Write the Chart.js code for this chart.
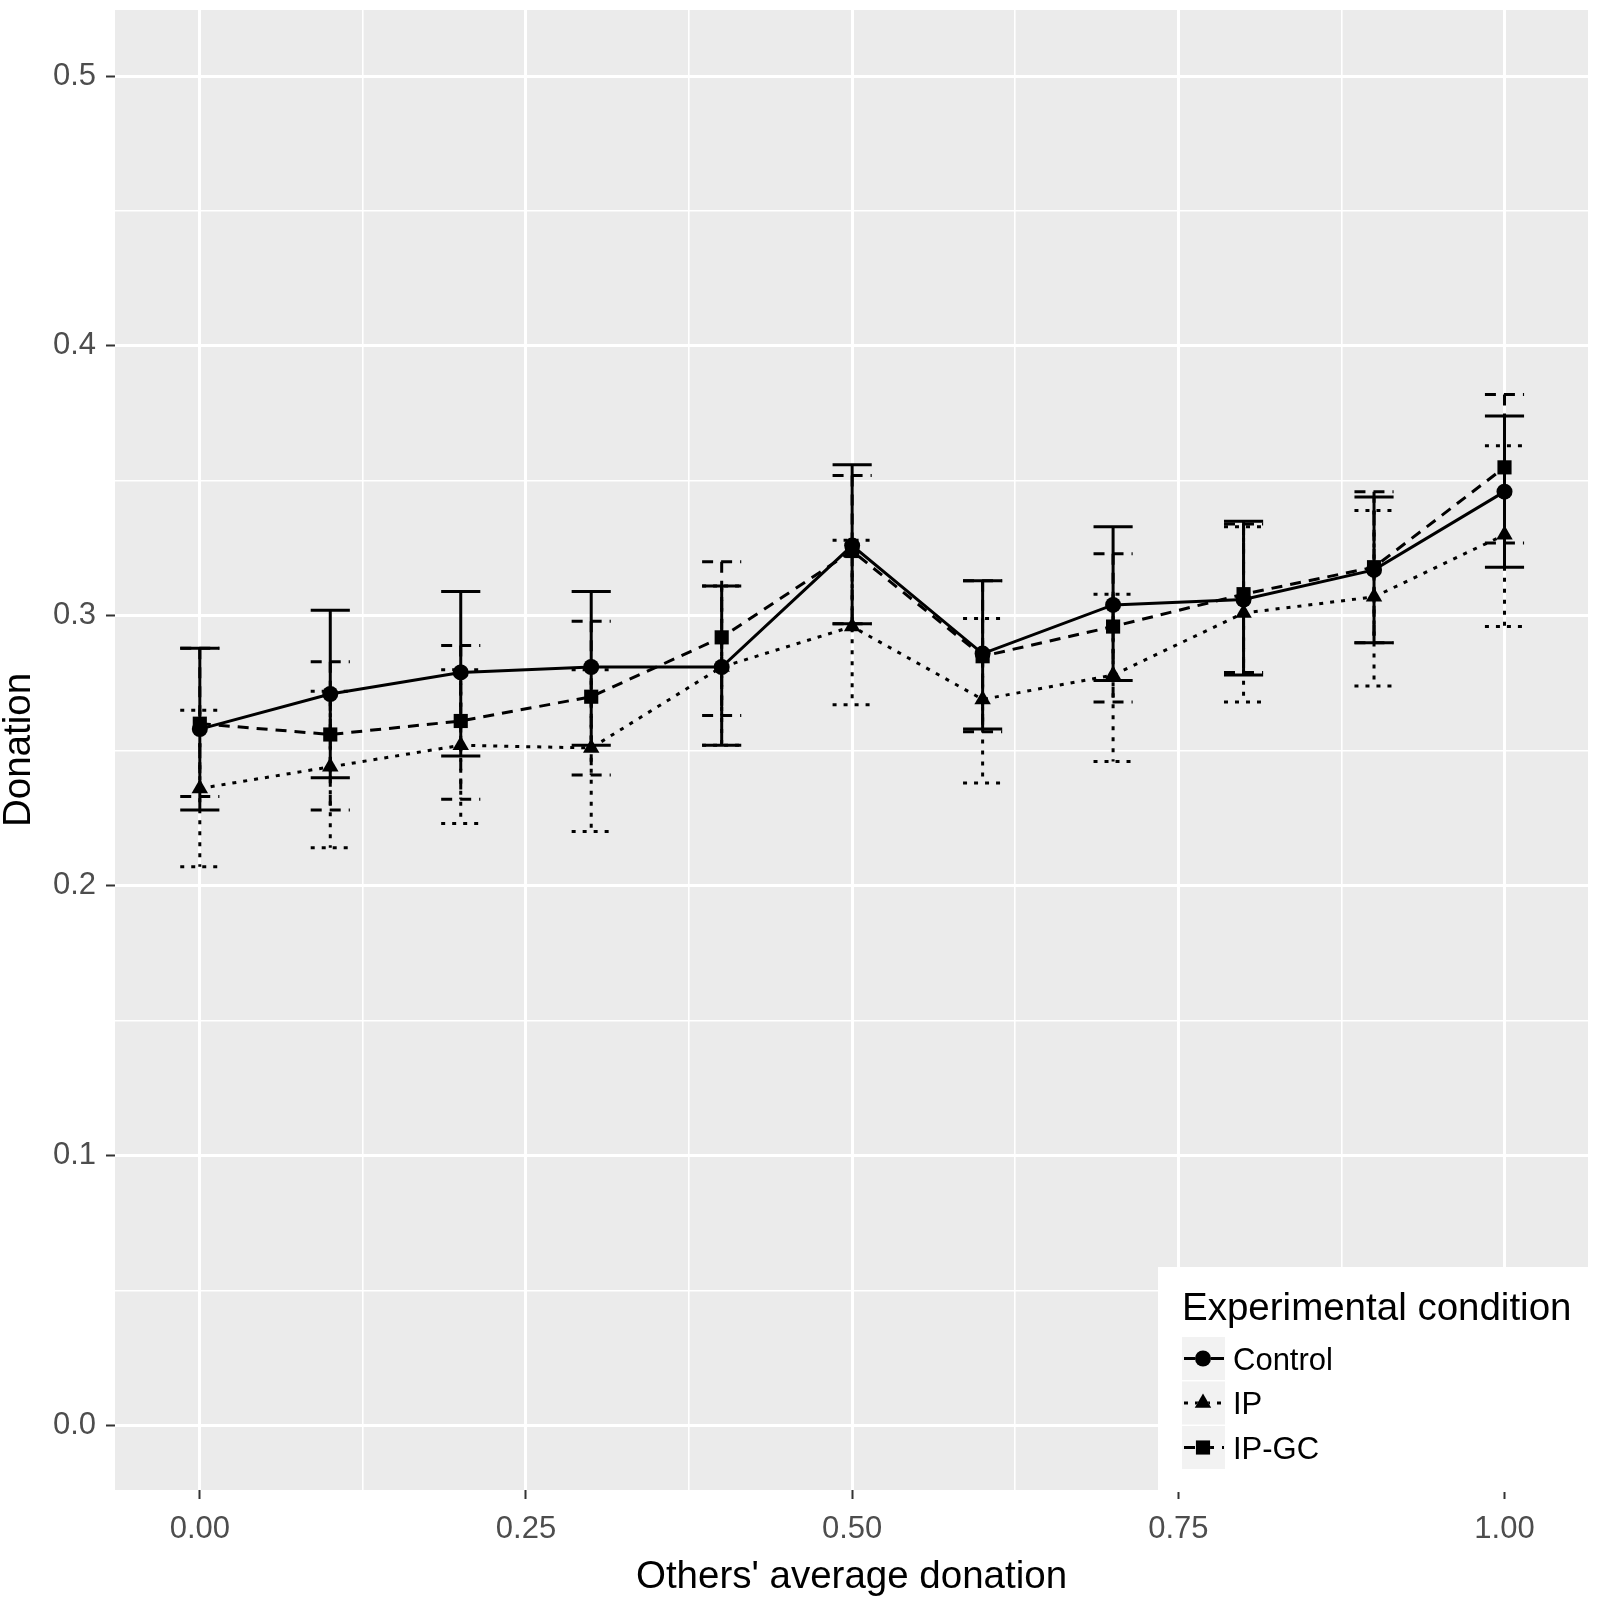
<!DOCTYPE html>
<html>
<head>
<meta charset="utf-8">
<script src="https://cdn.jsdelivr.net/npm/chart.js@4.4.0/dist/chart.umd.min.js"></script>
<style>
    html, body { margin: 0; padding: 0; background: #ffffff; }
    #wrap { width: 1600px; height: 1606px; }
</style>
</head>
<body>
<div id="wrap"><canvas id="donation_chart" width="1600" height="1606"></canvas></div>
<script>
// x: others' average donation
const others = [0, 0.1, 0.2, 0.3, 0.4, 0.5, 0.6, 0.7, 0.8, 0.9, 1.0];

const seriesNames = ['Control', 'IP', 'IP-GC'];

// means and error bar limits
const controlMean = [0.258, 0.271, 0.279, 0.281, 0.281, 0.326, 0.286, 0.304, 0.306, 0.317, 0.346];
const controlLow  = [0.228, 0.240, 0.248, 0.252, 0.252, 0.297, 0.258, 0.276, 0.278, 0.290, 0.318];
const controlHigh = [0.288, 0.302, 0.309, 0.309, 0.311, 0.356, 0.313, 0.333, 0.335, 0.344, 0.374];

const ipMean = [0.236, 0.244, 0.252, 0.251, 0.281, 0.296, 0.269, 0.278, 0.301, 0.307, 0.330];
const ipLow  = [0.207, 0.214, 0.223, 0.220, 0.252, 0.267, 0.238, 0.246, 0.268, 0.274, 0.296];
const ipHigh = [0.265, 0.272, 0.280, 0.280, 0.311, 0.328, 0.299, 0.308, 0.333, 0.339, 0.363];

const ipgcMean = [0.260, 0.256, 0.261, 0.270, 0.292, 0.324, 0.285, 0.296, 0.308, 0.318, 0.355];
const ipgcLow  = [0.233, 0.228, 0.232, 0.241, 0.263, 0.297, 0.257, 0.268, 0.279, 0.290, 0.327];
const ipgcHigh = [0.288, 0.283, 0.289, 0.298, 0.320, 0.352, 0.313, 0.323, 0.334, 0.346, 0.382];

// tick labels / gridlines
const xMajor = [0, 0.25, 0.5, 0.75, 1.0];
const xMinor = [0.125, 0.375, 0.625, 0.875];
const yMajor = [0, 0.1, 0.2, 0.3, 0.4, 0.5];
const yMinor = [0.05, 0.15, 0.25, 0.35, 0.45];

const capHalf = 0.015; // errorbar half width in x units

function points(means) {
    return others.map(function (x, i) {
        return {x: x, y: means[i]};
    });
}

function isMajor(list, v) {
    return list.some(function (m) { return Math.abs(m - v) < 1e-9; });
}

const panelPlugin = {
    id: 'panel',
    beforeDraw: function (chart) {
        var ctx = chart.ctx, a = chart.chartArea;
        ctx.save();
        ctx.fillStyle = '#ffffff';
        ctx.fillRect(0, 0, chart.width, chart.height);
        ctx.fillStyle = '#EBEBEB';
        ctx.fillRect(a.left, a.top, a.right - a.left, a.bottom - a.top);
        ctx.restore();
    }
};

const errorBarPlugin = {
    id: 'errorBars',
    afterDatasetsDraw: function (chart) {
        var ctx = chart.ctx, xs = chart.scales.x, ys = chart.scales.y;
        chart.data.datasets.forEach(function (ds) {
            ctx.save();
            ctx.strokeStyle = '#000000';
            ctx.lineWidth = 3;
            ctx.setLineDash(ds.borderDash || []);
            ds.data.forEach(function (pt, i) {
                var x = xs.getPixelForValue(pt.x);
                var xl = xs.getPixelForValue(pt.x - capHalf);
                var xr = xs.getPixelForValue(pt.x + capHalf);
                var yl = ys.getPixelForValue(ds.errLow[i]);
                var yh = ys.getPixelForValue(ds.errHigh[i]);
                ctx.beginPath();
                ctx.moveTo(x, yh);
                ctx.lineTo(x, yl);
                ctx.moveTo(xl, yh);
                ctx.lineTo(xr, yh);
                ctx.moveTo(xl, yl);
                ctx.lineTo(xr, yl);
                ctx.stroke();
            });
            ctx.restore();
        });
    }
};

const legendPlugin = {
    id: 'ggLegend',
    afterDraw: function (chart) {
        var ctx = chart.ctx;
        var left = 1158, top = 1267;
        ctx.save();
        ctx.fillStyle = '#ffffff';
        ctx.fillRect(left, top, 1600 - left, 1492 - top);

        ctx.fillStyle = '#000000';
        ctx.font = '38.5px "Liberation Sans", Arial, sans-serif';
        ctx.textBaseline = 'alphabetic';
        ctx.fillText('Experimental condition', 1182, 1320);

        chart.data.datasets.forEach(function (ds, i) {
            var ky = 1337 + i * 44.5;
            ctx.fillStyle = '#F2F2F2';
            ctx.fillRect(1182, ky, 43, 43);
            var cy = ky + 21.5;
            ctx.strokeStyle = '#000000';
            ctx.lineWidth = 3;
            ctx.setLineDash(ds.borderDash || []);
            ctx.beginPath();
            ctx.moveTo(1184, cy);
            ctx.lineTo(1224, cy);
            ctx.stroke();
            ctx.setLineDash([]);
            Chart.helpers.drawPoint(ctx, {
                pointStyle: ds.pointStyle,
                radius: ds.pointRadius,
                borderWidth: 0,
                rotation: 0
            }, 1203, cy);
            ctx.fillStyle = '#000000';
            ctx.fill();
            ctx.font = '31px "Liberation Sans", Arial, sans-serif';
            ctx.fillText(ds.label, 1233, cy + 11);
        });
        ctx.restore();
    }
};

Chart.defaults.font.family = '"Liberation Sans", Arial, sans-serif';

var config = {
    type: 'line',
    data: {
        datasets: [{
                label: seriesNames[0],
                data: points(controlMean),
                errLow: controlLow,
                errHigh: controlHigh,
                borderColor: '#000000',
                borderWidth: 3,
                borderDash: [],
                pointStyle: 'circle',
                pointRadius: 8,
                pointBackgroundColor: '#000000',
                pointBorderWidth: 0,
                tension: 0,
                fill: false
            }, {
                label: seriesNames[1],
                data: points(ipMean),
                errLow: ipLow,
                errHigh: ipHigh,
                borderColor: '#000000',
                borderWidth: 3,
                borderDash: [4, 7],
                pointStyle: 'triangle',
                pointRadius: 9.5,
                pointBackgroundColor: '#000000',
                pointBorderWidth: 0,
                tension: 0,
                fill: false
            }, {
                label: seriesNames[2],
                data: points(ipgcMean),
                errLow: ipgcLow,
                errHigh: ipgcHigh,
                borderColor: '#000000',
                borderWidth: 3,
                borderDash: [11, 8],
                pointStyle: 'rect',
                pointRadius: 10,
                pointBackgroundColor: '#000000',
                pointBorderWidth: 0,
                tension: 0,
                fill: false
            }]
    },
    options: {
        responsive: false,
        devicePixelRatio: 1,
        animation: false,
        layout: {
            padding: {left: 0, top: 6, right: 12, bottom: 0}
        },
        plugins: {
            legend: {display: false},
            tooltip: {enabled: false}
        },
        scales: {
            x: {
                type: 'linear',
                min: -0.065,
                max: 1.064,
                afterBuildTicks: function (scale) {
                    scale.ticks = xMajor.concat(xMinor).sort(function (a, b) { return a - b; })
                            .map(function (v) { return {value: v}; });
                },
                afterFit: function (scale) {
                    scale.height = 116;
                    scale.paddingLeft = 0;
                    scale.paddingRight = 0;
                },
                border: {display: false},
                grid: {
                    color: '#ffffff',
                    lineWidth: function (c) { return c.tick && isMajor(xMajor, c.tick.value) ? 3 : 1.6; },
                    tickColor: function (c) { return c.tick && isMajor(xMajor, c.tick.value) ? '#333333' : 'rgba(0,0,0,0)'; },
                    tickWidth: 2,
                    tickLength: 9,
                    drawTicks: true
                },
                ticks: {
                    autoSkip: false,
                    maxRotation: 0,
                    padding: 12,
                    color: '#4D4D4D',
                    font: {size: 31},
                    callback: function (v) { return isMajor(xMajor, v) ? v.toFixed(2) : ''; }
                },
                title: {
                    display: true,
                    text: "Others' average donation",
                    color: '#000000',
                    font: {size: 38.5, lineHeight: 1},
                    padding: {top: 0, bottom: 9}
                }
            },
            y: {
                type: 'linear',
                min: -0.024,
                max: 0.5245,
                afterBuildTicks: function (scale) {
                    scale.ticks = yMajor.concat(yMinor).sort(function (a, b) { return a - b; })
                            .map(function (v) { return {value: v}; });
                },
                afterFit: function (scale) {
                    scale.width = 115;
                    scale.paddingTop = 0;
                    scale.paddingBottom = 0;
                },
                border: {display: false},
                grid: {
                    color: '#ffffff',
                    lineWidth: function (c) { return c.tick && isMajor(yMajor, c.tick.value) ? 3 : 1.6; },
                    tickColor: function (c) { return c.tick && isMajor(yMajor, c.tick.value) ? '#333333' : 'rgba(0,0,0,0)'; },
                    tickWidth: 2,
                    tickLength: 9,
                    drawTicks: true
                },
                ticks: {
                    autoSkip: false,
                    padding: 10,
                    color: '#4D4D4D',
                    font: {size: 31},
                    callback: function (v) { return isMajor(yMajor, v) ? v.toFixed(1) : ''; }
                },
                title: {
                    display: true,
                    text: 'Donation',
                    color: '#000000',
                    font: {size: 38.5, lineHeight: 1},
                    padding: 0
                }
            }
        }
    },
    plugins: [panelPlugin, errorBarPlugin, legendPlugin]
};

var donationChart = new Chart(document.getElementById('donation_chart'), config);
</script>
</body>
</html>
